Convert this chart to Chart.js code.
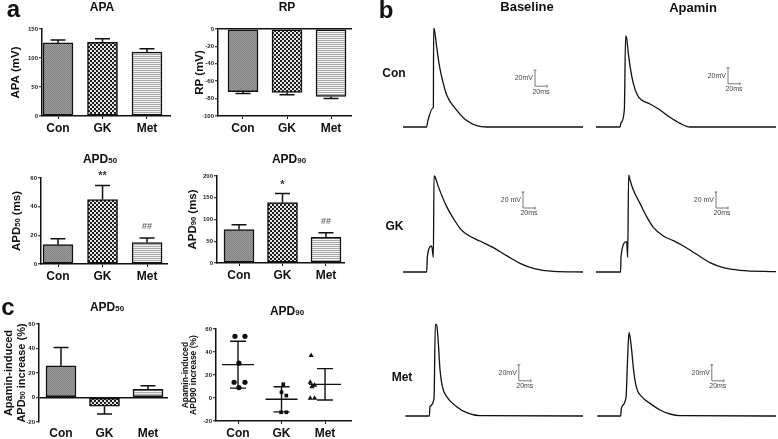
<!DOCTYPE html>
<html>
<head>
<meta charset="utf-8">
<script src="https://cdn.jsdelivr.net/npm/chart.js@4.4.0/dist/chart.umd.min.js"></script>
<style>
  html, body { margin: 0; padding: 0; overflow: hidden; background: #fff; }
  body { width: 778px; height: 439px; position: relative; font-family: "Liberation Sans", Arial, sans-serif; }
  canvas { position: absolute; }
  .lbl { position: absolute; transform: translate(-50%, -50%); line-height: 1; white-space: nowrap; color: #111; font-weight: bold; }
</style>
</head>
<body>
<canvas id="cApa"></canvas>
<canvas id="cRp"></canvas>
<canvas id="cApd50"></canvas>
<canvas id="cApd90"></canvas>
<canvas id="cInc50"></canvas>
<canvas id="cInc90"></canvas>
<canvas id="tConB"></canvas>
<canvas id="tConA"></canvas>
<canvas id="tGkB"></canvas>
<canvas id="tGkA"></canvas>
<canvas id="tMetB"></canvas>
<canvas id="tMetA"></canvas>

<div class="lbl" style="left:13.5px;top:8.5px;font-size:24px">a</div>
<div class="lbl" style="left:386px;top:9.5px;font-size:24px">b</div>
<div class="lbl" style="left:8px;top:307px;font-size:24px">c</div>
<div class="lbl" style="left:527px;top:6px;font-size:13px">Baseline</div>
<div class="lbl" style="left:693px;top:7px;font-size:13px">Apamin</div>
<div class="lbl" style="left:394px;top:72.5px;font-size:12px">Con</div>
<div class="lbl" style="left:394.5px;top:226px;font-size:12px">GK</div>
<div class="lbl" style="left:402px;top:377px;font-size:12px">Met</div>

<script>
const groups = ["Con", "GK", "Met"];

// a: mean ± SEM
const apaMean = [126, 127, 110];
const apaErr = [5, 6, 6];
const rpMean = [-72, -73, -77.5];
const rpErr = [2, 2.5, 2.3];
const apd50Mean = [13.5, 45, 15];
const apd50Err = [4.2, 9.8, 3.2];
const apd50Marks = ["", "**", "##"];
const apd90Mean = [77, 139, 59];
const apd90Err = [10.7, 20.6, 10.7];
const apd90Marks = ["", "*", "##"];

// c: apamin-induced increase (%)
const inc50Mean = [25.8, -7.1, 6.6];
const inc50Err = [15, 6.3, 3];
const inc90Con = [53.6, 53.6, 30.3, 13.7, 13.7, 9.1];
const inc90GK = [12, 5, 2.1, -12.4, -12.4];
const inc90Met = [37, 13.8, 11, 9.8, -0.2, -0.2];
// sideways spread of the dots inside each group
const spreadCon = [-0.07, 0.16, 0.02, -0.09, 0.16, 0.02];
const spreadGK = [0.04, 0, 0.11, -0.01, 0.11];
const spreadMet = [-0.32, -0.34, -0.24, -0.3, -0.34, -0.24];

// b: action potential traces, [time ms, voltage mV]
const traceConBaseline = [[0,-75],[39.4,-75],[41.1,-68.3],[49.4,-51.6],[50.6,-49.6],[51.1,48.3],[52.2,47.1],[56.1,25.4],[60,4.6],[64.4,-12.1],[72.8,-35],[89.4,-53.8],[105,-66.3],[122.8,-73.3],[139.4,-75],[300,-75]];
const traceConApamin = [[0,-75],[40,-75],[41.7,-69.6],[47.2,-53.8],[49.4,38.8],[51.1,35.8],[53.9,17.1],[57.8,-3.8],[62.2,-20.4],[68.9,-35],[76.1,-41.3],[90,-46.3],[106.7,-53.8],[123.3,-62.9],[140,-70.4],[156.7,-75],[300,-75]];
const traceGKBaseline = [[0,-75],[39.4,-75],[40.6,-55.8],[47.8,-42.5],[50.6,-56.7],[51.7,45],[53.3,44.2],[58.9,31.7],[72.8,6.7],[83.9,-7.9],[95,-20.4],[106,-27.9],[128.3,-36.3],[150.6,-44.6],[172.8,-54.6],[195,-64.2],[217.2,-70.4],[250.6,-74.2],[300,-75]];
const traceGKApamin = [[0,-75],[41.1,-75],[41.7,-55],[51.1,-37.1],[52.8,-56.7],[54.4,46.3],[56.7,40],[62.2,27.5],[73.3,10.8],[84.4,-5.8],[95.6,-19.2],[112.2,-30],[128.9,-35.8],[145.6,-42.5],[167.8,-52.9],[190,-63.3],[212.2,-69.6],[240,-72.9],[300,-74.5]];
const traceMetBaseline = [[4,-75],[43.9,-75],[45,-63.3],[51.7,-52.9],[53.9,39.6],[56.1,38.8],[58.9,15.8],[61.7,-17.5],[65.6,-38.3],[72.8,-50.8],[89.4,-63.3],[106.1,-70.8],[128.3,-74.6],[300,-75]];
const traceMetApamin = [[2,-75],[41.1,-75],[42.2,-65.4],[50,-51.7],[52.8,-0.8],[55,29.2],[56.7,24.2],[59.4,7.5],[63.3,-21.7],[67.8,-40.4],[76.1,-50.8],[90,-59.2],[106.7,-67.5],[123.3,-72.5],[140,-74.6],[300,-75]];

const FONT = "'Liberation Sans', Arial, sans-serif";
Chart.defaults.font.family = FONT;
Chart.defaults.color = "#111";

function makePattern(kind) {
  const c = document.createElement("canvas");
  const g = c.getContext("2d");
  if (kind === "con") {
    c.width = 2; c.height = 2;
    g.fillStyle = "#9e9e9e"; g.fillRect(0, 0, 2, 2);
    g.fillStyle = "#808080"; g.fillRect(0, 0, 1, 1); g.fillRect(1, 1, 1, 1);
  } else if (kind === "gk") {
    c.width = 4; c.height = 4;
    g.fillStyle = "#1c1c1c"; g.fillRect(0, 0, 4, 4);
    g.fillStyle = "#e6e6e6"; g.fillRect(0, 0, 2, 2); g.fillRect(2, 2, 2, 2);
  } else {
    c.width = 1; c.height = 2;
    g.fillStyle = "#f5f5f5"; g.fillRect(0, 0, 1, 2);
    g.fillStyle = "#a9a9a9"; g.fillRect(0, 0, 1, 1);
  }
  return g.createPattern(c, "repeat");
}
const fills = [makePattern("con"), makePattern("gk"), makePattern("met")];

// "APD{50}" -> APD with a small 50 on the baseline
function drawRich(ctx, text, cx, cy, size) {
  const parts = text.split(/(\{[^}]*\})/).filter(Boolean)
    .map(p => (p[0] === "{" ? [p.slice(1, -1), true] : [p, false]));
  const fonts = parts.map(p => "bold " + (p[1] ? size * 0.66 : size) + "px " + FONT);
  let total = 0;
  const widths = parts.map((p, i) => { ctx.font = fonts[i]; const w = ctx.measureText(p[0]).width; total += w; return w; });
  let x = cx - total / 2;
  const base = cy + size * 0.36;
  ctx.textAlign = "left";
  ctx.textBaseline = "alphabetic";
  parts.forEach((p, i) => { ctx.font = fonts[i]; ctx.fillText(p[0], x, base); x += widths[i]; });
}

// panel title and rotated y-axis title
const labelPlugin = {
  id: "labels",
  afterDraw(chart, args, o) {
    const ctx = chart.ctx, a = chart.chartArea;
    ctx.save();
    ctx.fillStyle = "#111";
    drawRich(ctx, o.title, o.titleX - o.left, o.titleY - o.top, 12);
    ctx.translate(o.ytX - o.left, (a.top + a.bottom) / 2);
    ctx.rotate(-Math.PI / 2);
    [].concat(o.yTitle).forEach((ln, k) => drawRich(ctx, ln, 0, k * o.ytSize * o.ytLine, o.ytSize));
    ctx.restore();
  }
};

// error bars (and significance marks) on top of the bars
const errorBarPlugin = {
  id: "errorBars",
  afterDatasetsDraw(chart, args, opts) {
    const ys = chart.scales.y;
    const ctx = chart.ctx;
    const ds = chart.data.datasets[0];
    ctx.save();
    ctx.strokeStyle = "#111";
    ctx.lineWidth = 1.5;
    chart.getDatasetMeta(0).data.forEach((bar, i) => {
      const v = ds.data[i].y;
      const e = opts.errors[i];
      const end = ys.getPixelForValue(v >= 0 ? v + e : v - e);
      ctx.beginPath();
      ctx.moveTo(bar.x, bar.y);
      ctx.lineTo(bar.x, end);
      ctx.moveTo(bar.x - 7.5, end);
      ctx.lineTo(bar.x + 7.5, end);
      ctx.stroke();
      const mark = opts.marks ? opts.marks[i] : "";
      if (mark) {
        const hash = mark[0] === "#";
        ctx.fillStyle = hash ? "#666" : "#333";
        ctx.font = "bold " + (hash ? 9 : 11) + "px " + FONT;
        ctx.textAlign = "center";
        ctx.textBaseline = "middle";
        ctx.fillText(mark, bar.x, end - (hash ? 11 : 9));
      }
    });
    ctx.restore();
  }
};

// mean line and SD whiskers for the dot plot
const meanSdPlugin = {
  id: "meanSd",
  afterDatasetsDraw(chart) {
    const xs = chart.scales.x, ys = chart.scales.y, ctx = chart.ctx;
    ctx.save();
    ctx.strokeStyle = "#111";
    ctx.lineWidth = 1.4;
    chart.data.datasets.forEach((ds, i) => {
      const vals = ds.data.map(p => p.y);
      const m = vals.reduce((a, b) => a + b, 0) / vals.length;
      const sd = Math.sqrt(vals.reduce((a, b) => a + (b - m) * (b - m), 0) / (vals.length - 1));
      const x = xs.getPixelForValue(i + 1);
      const ym = ys.getPixelForValue(m), yt = ys.getPixelForValue(m + sd), yb = ys.getPixelForValue(m - sd);
      ctx.beginPath();
      ctx.moveTo(x - 16, ym); ctx.lineTo(x + 16, ym);
      ctx.moveTo(x, yt); ctx.lineTo(x, yb);
      ctx.moveTo(x - 8, yt); ctx.lineTo(x + 8, yt);
      ctx.moveTo(x - 8, yb); ctx.lineTo(x + 8, yb);
      ctx.stroke();
    });
    ctx.restore();
  }
};

// 20 mV / 20 ms scale bar next to each trace
const scaleBarPlugin = {
  id: "scaleBar",
  afterDraw(chart, args, opts) {
    const xs = chart.scales.x, ys = chart.scales.y, ctx = chart.ctx;
    const x0 = xs.getPixelForValue(opts.ms), x1 = xs.getPixelForValue(opts.ms + 20);
    const y0 = ys.getPixelForValue(opts.mv), y1 = ys.getPixelForValue(opts.mv + 20);
    ctx.save();
    ctx.strokeStyle = "#555";
    ctx.lineWidth = 0.8;
    ctx.beginPath();
    ctx.moveTo(x0, y1); ctx.lineTo(x0, y0); ctx.lineTo(x1, y0);
    ctx.moveTo(x0 - 1.5, y1); ctx.lineTo(x0 + 1.5, y1);
    ctx.moveTo(x1, y0 - 1.5); ctx.lineTo(x1, y0 + 1.5);
    ctx.stroke();
    ctx.fillStyle = "#444";
    ctx.font = "7px " + FONT;
    ctx.textAlign = "right";
    ctx.textBaseline = "middle";
    ctx.fillText(opts.label, x0 - 2, (y0 + y1) / 2);
    ctx.textAlign = "center";
    ctx.textBaseline = "top";
    ctx.fillText("20ms", (x0 + x1) / 2, y0 + 2);
    ctx.restore();
  }
};

function placeCanvas(id, left, top, w, h) {
  const c = document.getElementById(id);
  c.width = w; c.height = h;
  c.style.left = left + "px";
  c.style.top = top + "px";
  return c;
}

// g: canvas left/top, plot area l/r/t/b
function axisOptions(g, y) {
  return {
    x: {
      type: "linear", min: g.xmin, max: g.xmax, offset: false,
      afterBuildTicks: s => { s.ticks = groups.map((_, i) => ({ value: i + 1 })); },
      afterFit: s => { s.height = 20; },
      border: { display: !g.noXLine, color: "#111", width: 1.5 },
      grid: { drawOnChartArea: false, drawTicks: !g.noXLine, tickLength: 3, tickColor: "#111", tickWidth: 1, offset: false },
      ticks: { autoSkip: false, maxRotation: 0, padding: g.noXLine ? 4 : 2, color: "#111",
        font: { size: 12, weight: "bold" }, callback: v => groups[Math.round(v) - 1] || "" }
    },
    y: {
      min: y.min, max: y.max,
      afterFit: s => { s.width = g.l - g.left; },
      border: { color: "#111", width: 1.5 },
      grid: { drawOnChartArea: !!g.zeroLine, color: c => (c.tick && c.tick.value === 0 ? "#111" : "rgba(0,0,0,0)"),
        lineWidth: 1.5, tickLength: 3, tickColor: "#111", tickWidth: 1 },
      ticks: { stepSize: y.step, padding: 1, color: "#222", font: { size: 6, weight: "bold" } }
    }
  };
}

function baseOptions(g, y) {
  return {
    responsive: false, animation: false, events: [], devicePixelRatio: 1,
    layout: { padding: { top: g.t - g.top, left: 0, right: 0, bottom: 0 }, autoPadding: false },
    scales: axisOptions(g, y),
    plugins: {
      legend: { display: false }, tooltip: { enabled: false },
      labels: { left: g.left, top: g.top, title: g.title, titleX: g.titleX, titleY: g.titleY,
        yTitle: g.yTitle, ytX: g.ytX, ytSize: g.ytSize, ytLine: g.ytLine }
    }
  };
}

function barChart(id, g, means, errs, marks, y) {
  const canvas = placeCanvas(id, g.left, g.top, g.r - g.left, g.b + 20 - g.top);
  const options = baseOptions(g, y);
  options.plugins.errorBars = { errors: errs, marks: marks };
  return new Chart(canvas, {
    type: "bar",
    data: {
      datasets: [{
        data: means.map((m, i) => ({ x: i + 1, y: m })),
        backgroundColor: fills, borderColor: "#111", borderWidth: 1.5,
        borderSkipped: false, barThickness: 30
      }]
    },
    options: options,
    plugins: [errorBarPlugin, labelPlugin]
  });
}

barChart("cApa",
  { left: 0, top: 0, l: 42, r: 171, t: 29, b: 116, xmin: 0.64, xmax: 3.54,
    title: "APA", titleX: 102, titleY: 7,
    yTitle: "APA (mV)", ytSize: 11.5, ytLine: 1.2, ytX: 15 },
  apaMean, apaErr, null, { min: 0, max: 150, step: 50 });

barChart("cRp",
  { left: 186, top: 0, l: 218, r: 352, t: 29, b: 116, xmin: 0.432, xmax: 3.477,
    title: "RP", titleX: 287, titleY: 7,
    yTitle: "RP (mV)", ytSize: 11.5, ytLine: 1.2, ytX: 199, zeroLine: true },
  rpMean, rpErr, null, { min: -100, max: 0, step: 20 });

barChart("cApd50",
  { left: 0, top: 150, l: 41, r: 168, t: 178, b: 264, xmin: 0.618, xmax: 3.47,
    title: "APD{50}", titleX: 100, titleY: 159,
    yTitle: "APD{50} (ms)", ytSize: 11.5, ytLine: 1.2, ytX: 15.5 },
  apd50Mean, apd50Err, apd50Marks, { min: 0, max: 60, step: 20 });

barChart("cApd90",
  { left: 184, top: 150, l: 217, r: 345, t: 176, b: 263, xmin: 0.494, xmax: 3.437,
    title: "APD{90}", titleX: 289, titleY: 159,
    yTitle: "APD{90} (ms)", ytSize: 11.5, ytLine: 1.2, ytX: 192 },
  apd90Mean, apd90Err, apd90Marks, { min: 0, max: 200, step: 50 });

barChart("cInc50",
  { left: 0, top: 296, l: 39, r: 168, t: 324, b: 422, xmin: 0.494, xmax: 3.46,
    title: "APD{50}", titleX: 107, titleY: 307,
    yTitle: ["Apamin-induced", "APD{50} increase (%)"], ytSize: 11, ytLine: 1.15, ytX: 8,
    zeroLine: true, noXLine: true },
  inc50Mean, inc50Err, null, { min: -20, max: 60, step: 20 });

// c, APD90: individual cells with mean ± SD
(function () {
  const g = { left: 176, top: 296, l: 216, r: 352, t: 329, b: 421, xmin: 0.494, xmax: 3.62,
    title: "APD{90}", titleX: 287, titleY: 311,
    yTitle: ["Apamin-induced", "APD90 increase (%)"], ytSize: 8.5, ytLine: 1.05, ytX: 184.5 };
  const canvas = placeCanvas("cInc90", g.left, g.top, g.r - g.left, g.b + 20 - g.top);
  const dots = (vals, spread, center, style) => ({
    data: vals.map((v, i) => ({ x: center + spread[i], y: v })),
    pointStyle: style, pointRadius: style === "triangle" ? 3 : 2.6,
    backgroundColor: "#111", borderColor: "#111", borderWidth: 0
  });
  new Chart(canvas, {
    type: "scatter",
    data: {
      datasets: [
        dots(inc90Con, spreadCon, 1, "circle"),
        dots(inc90GK, spreadGK, 2, "rect"),
        dots(inc90Met, spreadMet, 3, "triangle")
      ]
    },
    options: baseOptions(g, { min: -20, max: 60, step: 20 }),
    plugins: [meanSdPlugin, labelPlugin]
  });
})();

function traceChart(id, left, top, pts, bar) {
  const canvas = placeCanvas(id, left, top, 180, 112);
  new Chart(canvas, {
    type: "line",
    data: {
      datasets: [{
        data: pts.map(p => ({ x: p[0], y: p[1] })),
        borderColor: "#111", borderWidth: 1.3, pointRadius: 0,
        cubicInterpolationMode: "monotone", fill: false
      }]
    },
    options: {
      responsive: false, animation: false, events: [], devicePixelRatio: 1,
      layout: { padding: 0, autoPadding: false },
      scales: {
        x: { type: "linear", min: 0, max: 300, display: false },
        y: { min: -85, max: 55, display: false }
      },
      plugins: { legend: { display: false }, tooltip: { enabled: false }, scaleBar: bar }
    },
    plugins: [scaleBarPlugin]
  });
}

traceChart("tConB", 403, 23, traceConBaseline, { ms: 220, mv: -24, label: "20mV" });
traceChart("tConA", 596, 23, traceConApamin, { ms: 220, mv: -21, label: "20mV" });
traceChart("tGkB", 403, 168, traceGKBaseline, { ms: 200, mv: 5, label: "20 mV" });
traceChart("tGkA", 596, 168, traceGKApamin, { ms: 200, mv: 5, label: "20 mV" });
traceChart("tMetB", 403, 312, traceMetBaseline, { ms: 193, mv: -31, label: "20mV" });
traceChart("tMetA", 596, 312, traceMetApamin, { ms: 193, mv: -31, label: "20mV" });
</script>
</body>
</html>
